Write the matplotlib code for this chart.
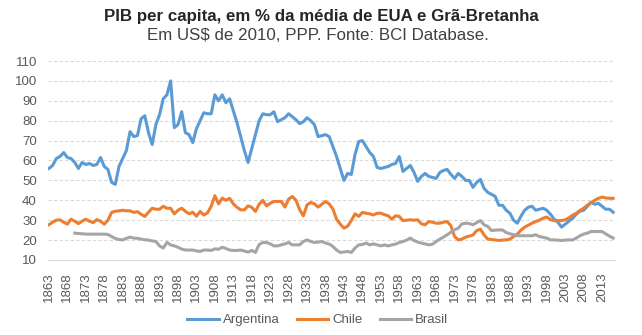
import numpy as np
import matplotlib
matplotlib.use("Agg")
import matplotlib.pyplot as plt

plt.rcParams['font.family'] = ['Liberation Sans', 'DejaVu Sans']

title = "PIB per capita, em % da média de EUA e Grã-Bretanha"
subtitle = "Em US$ de 2010, PPP. Fonte: BCI Database."

arg_start = 1863
argentina = [
    56, 57.5, 61, 62, 64, 61.5, 61,
    59, 56, 59, 58, 58.5, 57.5, 58, 61.5, 57, 55.5,
    49, 48, 57, 61, 65, 74.5, 72, 72.5, 81, 82.5,
    74, 68, 78, 83, 91, 93, 100, 76.5, 78, 84.5,
    74, 73, 69, 76, 80, 84, 83.5, 83.5, 93, 90,
    93, 89, 91, 85, 79, 72, 65, 59, 66, 73,
    80, 83.5, 83, 83, 84.5, 79.5, 80.5, 81.5, 83.5, 82,
    80.5, 78.5, 79.5, 81.5, 80, 78, 72, 72.5, 73, 72,
    67, 62, 56, 50, 53.5, 53, 63, 69.5, 70, 67,
    64, 62, 56.5, 56, 56.5, 57, 58, 58.5, 62, 54.5,
    56, 57.5, 54, 49.5, 52, 53.5, 52, 51.5, 51, 54,
    55, 55.5, 53, 51, 53.5, 52, 50, 50, 46.5, 49,
    50.5, 46, 44, 43, 42, 37.5, 37.5, 35, 33.5, 30,
    28.5, 32, 35, 36.5, 37, 35, 35.5, 36, 35, 33,
    30.5, 29, 26.5, 28, 29.5, 31, 33, 34.5, 35, 37,
    39, 38, 38.5, 37, 35.5, 35.5, 34,
]

chile_start = 1863
chile = [
    27.7, 29, 30, 30.2, 29, 28, 30.5,
    29.5, 28.3, 29.5, 30.5, 29.5, 28.8, 30.3, 29.5, 28, 30,
    33.9, 34.5, 34.7, 35, 34.7, 34.7, 33.9, 34.3, 33, 31.9,
    34, 36, 35.5, 35.5, 37, 36, 36, 33.2, 35, 36,
    34.5, 33.2, 34, 32, 34.4, 32.6, 33.7, 37, 42.3, 38.2,
    41.1, 40, 41, 38.2, 36.5, 35.2, 35.2, 37.2, 36.5, 34.4,
    38, 40, 37.2, 38.5, 39.4, 39.4, 39.4, 36.6, 40.6, 41.9,
    40, 35.2, 32.2, 37.7, 38.9, 38.2, 36.6, 38, 39.4, 38.2,
    35.6, 30.5, 28, 26, 27, 29.8, 33.2, 31.9, 33.9, 33.5,
    33.2, 32.6, 33.5, 33.5, 32.8, 32.2, 30.5, 32.2, 31.9, 29.8,
    30, 30.2, 30, 30.2, 28.2, 27.7, 29.3, 29, 28.5, 28.5,
    29, 29.3, 27.2, 21.8, 20.1, 20.5, 21.5, 22, 22.6, 24.8,
    25.5, 22.6, 20.5, 20.3, 20.1, 19.8, 20, 20.1, 20.5, 21.8,
    23, 25, 26.5, 27.5, 28.5, 29.3, 30, 31, 31.6, 30.2,
    29.8, 29.8, 29.8, 30.2, 31.2, 32.5, 33.5, 34.9, 36, 37.5,
    38.8, 40, 41, 41.6, 41.2, 41, 41,
]

brasil_start = 1870
brasil = [
    23.5, 23.3, 23.2, 23, 23, 23, 23, 23, 23, 22.8,
    21.8, 20.8, 20.3, 20.1, 20.9, 21.5, 21, 20.9, 20.5, 20.2,
    20, 19.6, 19.3, 17.1, 16, 18.8, 17.6, 17.1, 16.4, 15.5,
    15, 15, 15, 14.6, 14.3, 15, 15, 14.8, 15.6, 15.4,
    16.4, 15.8, 15, 14.8, 14.8, 15, 14.5, 14, 14.8, 13.8,
    17.8, 18.8, 18.8, 18.1, 17.1, 17.1, 17.6, 18.1, 18.8, 17.6,
    17.6, 17.6, 19.3, 20.1, 19.3, 18.8, 19, 19.3, 18.5, 18,
    16.8, 15, 13.8, 14, 14.3, 13.8, 16, 17.6, 17.8, 18.5,
    17.6, 18.1, 17.6, 17.1, 17.6, 17.1, 17.6, 18, 18.8, 19.3,
    20, 21, 19.8, 19, 18.5, 18.1, 17.6, 17.9, 19.3, 20.5,
    21.5, 22.7, 24, 25.2, 26, 28.2, 28.5, 28.3, 27.7, 28.8,
    29.8, 27.7, 26.9, 24.8, 25, 25.1, 25.1, 23.8, 23.2, 22.7,
    22.2, 22.2, 22.2, 22.2, 22.2, 22.7, 21.8, 21.4, 21, 20.1,
    20.1, 20, 19.8, 20, 20.1, 20.1, 21, 22.2, 23, 23.5,
    24.3, 24.3, 24.3, 24.3, 23.1, 22, 21,
]

series_names = ["Argentina", "Chile", "Brasil"]
colors = ["#5B9BD5", "#ED7D31", "#A5A5A5"]

yticks = list(range(10, 111, 10))
xtick_years = list(range(1863, 2014, 5))

fig = plt.figure(figsize=(6.42, 3.35), dpi=100)
ax = fig.add_axes([48/642, 1-260/335, (615-48)/642, (260-61)/335])

data = [(arg_start, argentina), (chile_start, chile), (brasil_start, brasil)]
for (start, vals), name, c in zip(data, series_names, colors):
    yrs = np.arange(start, start + len(vals))
    ax.plot(yrs, vals, color=c, lw=2.2, label=name, solid_joinstyle='round')

ax.set_ylim(10, 110)
ax.set_xlim(1862.75, 2016.5)
ax.set_yticks(yticks)
ax.set_xticks(xtick_years)
ax.set_xticklabels([str(y) for y in xtick_years], rotation=90)
ax.tick_params(axis='both', length=0, labelsize=9.5, labelcolor='#595959')
ax.tick_params(axis='y', pad=8)
ax.tick_params(axis='x', pad=9)
for y in yticks[1:]:
    ax.axhline(y, color='#D9D9D9', lw=0.8, ls=(0, (3, 2)), zorder=0)
for s in ['top', 'right', 'left']:
    ax.spines[s].set_visible(False)
ax.spines['bottom'].set_color('#D9D9D9')
ax.spines['bottom'].set_linewidth(0.8)

fig.text(0.5, 1-17/335, title, ha='center', va='center', fontsize=12.2, fontweight='bold', color='#262626')
fig.text(0.495, 1-36/335, subtitle, ha='center', va='center', fontsize=12.2, color='#404040')

leg = fig.legend(loc='center', bbox_to_anchor=(0.495, 1-320/335), ncol=3, frameon=False,
                 fontsize=9.5, handlelength=2.4, columnspacing=1.3, handletextpad=0.3)
for t in leg.get_texts():
    t.set_color('#595959')

fig.savefig("out.png", dpi=100)
